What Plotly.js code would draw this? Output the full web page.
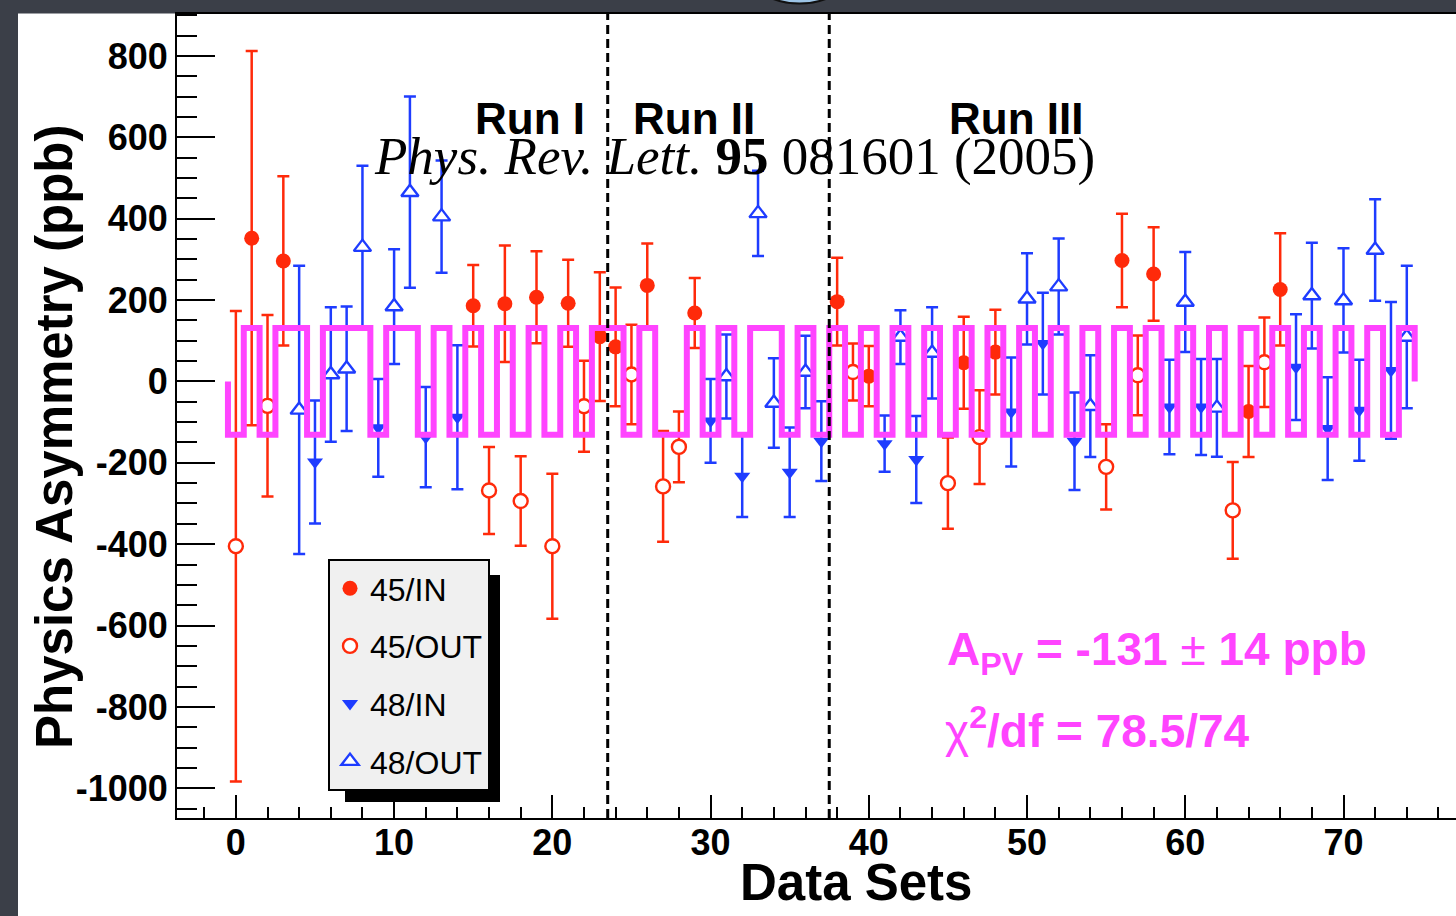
<!DOCTYPE html>
<html>
<head>
<meta charset="utf-8">
<script src="https://cdn.plot.ly/plotly-3.0.1.min.js"></script>
<style>
html,body{margin:0;padding:0;background:#3b3f48;}
#chart{width:1456px;height:916px;}
</style>
</head>
<body>
<div id="chart"></div>
<script>
// ---- data ----
const setTypes = [
 '45/OUT','45/IN','45/OUT','45/IN','48/OUT','48/IN','48/OUT','48/OUT','48/OUT','48/IN','48/OUT','48/OUT','48/IN','48/OUT','48/IN',
 '45/IN','45/OUT','45/IN','45/OUT','45/IN','45/OUT','45/IN','45/OUT','45/IN','45/IN','45/OUT','45/IN','45/OUT','45/OUT','45/IN',
 '48/IN','48/OUT','48/IN','48/OUT','48/OUT','48/IN','48/OUT','48/IN',
 '45/IN','45/OUT','45/IN',
 '48/IN','48/OUT','48/IN','48/OUT',
 '45/OUT','45/IN','45/OUT','45/IN',
 '48/IN','48/OUT','48/IN','48/OUT','48/IN','48/OUT',
 '45/OUT','45/IN','45/OUT','45/IN',
 '48/IN','48/OUT','48/IN','48/OUT',
 '45/OUT','45/IN','45/OUT','45/IN',
 '48/IN','48/OUT','48/IN','48/OUT','48/IN','48/OUT','48/IN','48/OUT'
];
const asymmetry = [
 -405, 352, -60, 296, -70, -198, 17, 31, 330, -114, 184, 465, -137, 405, -88,
 186, -268, 191, -294, 207, -405, 192, -61, 110, 85, 17, 236, -258, -161, 168,
 -97, 12, -233, 413, -53, -223, 23, -147,
 196, 23, 13,
 -153, 109, -192, 70,
 -250, 46, -137, 72,
 -75, 203, 93, 233, -147, -61,
 -210, 297, 15, 264,
 -63, 195, -63, -65,
 -317, -74, 47, 226,
 35, 211, -116, 199, -71, 323, 27, 109
];
const asymErr = [
 578, 460, 223, 208, 354, 151, 165, 153, 200, 120, 141, 235, 123, 138, 177,
 100, 107, 143, 110, 113, 178, 107, 112, 158, 146, 122, 103, 136, 87, 86,
 103, 103, 100, 105, 110, 110, 89, 98,
 108, 70, 74,
 69, 66, 107, 112,
 112, 113, 115, 104,
 134, 112, 125, 118, 120, 125,
 105, 115, 98, 115,
 116, 123, 118, 120,
 119, 112, 110, 138,
 130, 130, 126, 128, 124, 125, 168, 175
];
const seriesNames = ['45/IN', '45/OUT', '48/IN', '48/OUT'];
const fitAPV = -131;          // ppb
const fitAPVErr = 14;         // ppb
const fitChi2 = '78.5/74';
const runBoundaries = [23.5, 37.5];
const runLabels = ['Run I', 'Run II', 'Run III'];
const yTickVals = [-1000, -800, -600, -400, -200, 0, 200, 400, 600, 800];
const yTickText = ['-1000', '-800', '-600', '-400', '-200', '0', '200', '400', '600', '800'];
const xTitle = 'Data Sets';
const yTitle = 'Physics Asymmetry (ppb)';
const citation = '<i>Phys. Rev. Lett.</i> <b>95</b> 081601 (2005)';

// ---- styles ----
const RED = '#ff2a0a', BLUE = '#1e3cff', MAG = '#ff44ff';
const SANS = 'Liberation Sans, Arial, Helvetica, sans-serif';
const SERIF = 'Liberation Serif, Times New Roman, serif';
const styles = {
  '45/IN':  {symbol: 'circle',        color: RED,  fill: RED,     size: 15, lw: 0},
  '45/OUT': {symbol: 'circle',        color: RED,  fill: 'white', size: 14, lw: 2.4},
  '48/IN':  {symbol: 'triangle-down', color: BLUE, fill: BLUE,    size: 14, lw: 0},
  '48/OUT': {symbol: 'triangle-up',   color: BLUE, fill: 'white', size: 15, lw: 2.4}
};

// plot-area geometry in px (for placing free text)
const L = 177, R = 1456, T = 14, B = 818, W = 1456, H = 916;
const px = v => (v - L) / (R - L);
const py = v => (B - v) / (B - T);

const traces = seriesNames.map(name => {
  const idx = setTypes.map((t, i) => t === name ? i : -1).filter(i => i >= 0);
  const s = styles[name];
  return {
    type: 'scatter', mode: 'markers', name: name, legendgroup: name,
    x: idx, y: idx.map(i => asymmetry[i]),
    error_y: {type: 'data', array: idx.map(i => asymErr[i]), visible: true,
              color: s.color, thickness: 2.5, width: 6},
    marker: {symbol: s.symbol, size: s.size, color: s.fill,
             line: {color: s.color, width: s.lw}},
    hoverinfo: 'x+y'
  };
});

// fit: +|A| for 45/IN & 48/OUT, -|A| for 45/OUT & 48/IN, drawn as a histogram outline
const fitX = [-0.5], fitY = [0];
setTypes.forEach((t, i) => {
  const sgn = (t === '45/IN' || t === '48/OUT') ? 1 : -1;
  const lvl = -fitAPV * sgn;
  fitX.push(i - 0.5, i + 0.5);
  fitY.push(lvl, lvl);
});
fitX.push(setTypes.length - 0.5); fitY.push(0);
traces.push({type: 'scatter', mode: 'lines', x: fitX, y: fitY, showlegend: false,
  line: {color: MAG, width: 6, shape: 'linear'}, hoverinfo: 'skip'});

const shapes = [
  // dark presentation background strips
  {type: 'rect', xref: 'paper', yref: 'paper', x0: px(0), x1: px(W), y0: py(0), y1: py(13.5),
   fillcolor: '#3b3f48', line: {width: 0}, layer: 'below'},
  {type: 'rect', xref: 'paper', yref: 'paper', x0: px(0), x1: px(18), y0: py(0), y1: py(H),
   fillcolor: '#3b3f48', line: {width: 0}, layer: 'below'},
  // top ornament
  {type: 'circle', xref: 'paper', yref: 'paper', x0: px(725), x1: px(874), y0: py(-144), y1: py(3.5),
   fillcolor: '#9cc4e6', line: {color: '#111', width: 2}, layer: 'above'},
  // legend shadow
  {type: 'rect', xref: 'paper', yref: 'paper', x0: px(345), x1: px(500), y0: py(802), y1: py(575),
   fillcolor: '#000', line: {width: 0}, layer: 'above'}
];
runBoundaries.forEach(b => shapes.push({type: 'line', xref: 'x', yref: 'paper', x0: b, x1: b, y0: 0, y1: 1,
  line: {color: '#000', width: 3, dash: '9px,5px'}, layer: 'above'}));

const runLabelPx = [530, 694, 1016];
const annotations = runLabels.map((t, k) => ({
  text: t, xref: 'paper', yref: 'paper', x: px(runLabelPx[k]), y: py(119),
  xanchor: 'center', yanchor: 'middle', showarrow: false,
  font: {family: SANS, size: 44, color: '#000', weight: 'bold'}
}));
annotations.push({text: citation, xref: 'paper', yref: 'paper', x: px(734), y: py(156),
  xanchor: 'center', yanchor: 'middle', showarrow: false,
  font: {family: SERIF, size: 53, color: '#000'}});
annotations.push({text: 'A<sub>PV</sub> = ' + String(fitAPV) + ' <span style="font-weight:normal">±</span> ' + fitAPVErr + ' ppb',
  xref: 'paper', yref: 'paper', x: px(945), y: py(652), xanchor: 'left', yanchor: 'middle', showarrow: false,
  font: {family: SANS, size: 46, color: MAG, weight: 'bold'}});
annotations.push({text: '<span style="font-weight:normal">χ</span><sup>2</sup>/df = ' + fitChi2,
  xref: 'paper', yref: 'paper', x: px(943), y: py(728), xanchor: 'left', yanchor: 'middle', showarrow: false,
  font: {family: SANS, size: 46, color: MAG, weight: 'bold'}});
annotations.push({text: yTitle, xref: 'paper', yref: 'paper', x: px(54), y: py(437), textangle: -90,
  xanchor: 'center', yanchor: 'middle', showarrow: false,
  font: {family: SANS, size: 51, color: '#000', weight: 'bold'}});
annotations.push({text: xTitle, xref: 'paper', yref: 'paper', x: px(856), y: py(882),
  xanchor: 'center', yanchor: 'middle', showarrow: false,
  font: {family: SANS, size: 51, color: '#000', weight: 'bold'}});

const layout = {
  width: W, height: H,
  margin: {l: L, r: W - R, t: T, b: H - B, pad: 0},
  paper_bgcolor: 'white', plot_bgcolor: 'white',
  showlegend: true,
  legend: {x: px(328), y: py(559), xanchor: 'left', yanchor: 'top',
           bgcolor: '#f0f0f0', bordercolor: '#000', borderwidth: 2,
           traceorder: 'grouped', tracegroupgap: 13,
           font: {family: SANS, size: 32, color: '#000'}},
  xaxis: {range: [-3.72, 77.11], showgrid: false, zeroline: false,
          showline: true, linecolor: '#000', linewidth: 2, mirror: true,
          ticks: 'inside', ticklen: 23, tickwidth: 2, tickcolor: '#000', dtick: 10, tick0: 0,
          ticklabelstandoff: -8,
          minor: {dtick: 2, tick0: 0, ticks: 'inside', ticklen: 11, tickwidth: 2, tickcolor: '#000'},
          tickfont: {family: SANS, size: 36, color: '#000', weight: 'bold'}},
  yaxis: {range: [-1073, 903], showgrid: false, zeroline: false,
          showline: true, linecolor: '#000', linewidth: 2, mirror: false,
          ticks: 'inside', ticklen: 38, tickwidth: 2, tickcolor: '#000',
          tickmode: 'array', tickvals: yTickVals, ticktext: yTickText,
          minor: {dtick: 50, tick0: 0, ticks: 'inside', ticklen: 20, tickwidth: 2, tickcolor: '#000'},
          tickfont: {family: SANS, size: 36, color: '#000', weight: 'bold'}},
  shapes: shapes,
  annotations: annotations
};

Plotly.newPlot('chart', traces, layout, {displayModeBar: false, staticPlot: true});
</script>
</body>
</html>
